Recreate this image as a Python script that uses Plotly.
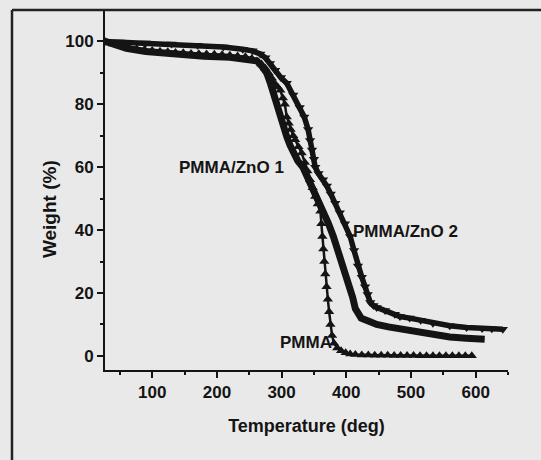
import plotly.graph_objects as go

# ---------------- data ----------------
pmma_T = [27, 40, 52, 64, 76, 88, 100, 112, 124, 136, 148, 160, 172, 184, 196, 208, 220, 232, 244, 254,
          262, 269, 275, 280, 285, 290, 294, 298, 302, 305, 308, 311, 314, 318, 321, 326, 331, 336, 340,
          344, 348, 352, 356, 360, 361.5, 363, 364.5, 366, 367.5, 369.5, 371.5, 373.5, 375.5, 378, 381,
          386, 392, 399, 406, 414, 424, 434, 444, 454, 464, 474, 484, 494, 504, 514, 524, 534, 544, 554,
          564, 574, 584, 594]
pmma_W = [100, 99.2, 98.6, 98.1, 97.7, 97.4, 97.1, 96.9, 96.7, 96.5, 96.4, 96.2, 96.1, 96.0, 95.9, 95.8,
          95.6, 95.4, 95.1, 94.6, 93.8, 92.8, 91.5, 90.0, 88.3, 86.5, 85.5, 84.5, 82.0, 80.0, 76.0, 74.0,
          72.0, 70.0, 68.7, 66.5, 64.5, 61.5, 58.8, 56.0, 53.5, 50.7, 48.3, 46.0, 42.0, 38.0, 34.0, 30.0,
          26.0, 22.0, 18.0, 14.0, 10.0, 6.5, 4.0, 2.5, 1.6, 1.0, 0.6, 0.4, 0.3, 0.3, 0.2, 0.2, 0.2, 0.1,
          0.1, 0.1, 0.1, 0.0, 0.0, 0.0, 0.0, 0.0, 0.0, 0.0, 0.0, 0.0]

zno1_T = [27, 40, 60, 90, 130, 180, 220, 250, 262, 270, 277, 283, 287, 293, 298, 303, 308, 313, 318,
          325, 333, 340, 349, 357, 364, 372, 380, 388, 395, 401, 406, 410, 414, 418, 423, 435, 447, 465,
          483, 500, 515, 534, 560, 586, 600, 614]
zno1_W = [100, 99.0, 97.8, 96.8, 96.0, 95.3, 95.0, 94.5, 93.8, 92.0, 90.0, 86.5, 83.5, 79.5, 76.0, 72.5,
          69.7, 67.0, 64.5, 62.0, 60.0, 57.0, 53.0, 49.8, 46.5, 42.3, 38.0, 33.0, 28.6, 25.0, 22.0, 18.5,
          15.0, 13.2, 12.0, 11.0, 10.0, 9.2, 8.5, 7.8, 7.2, 6.6, 6.0, 5.6, 5.4, 5.3]

zno2_T = [27, 50, 90, 130, 170, 210, 240, 255, 267, 275, 282, 290, 299, 308, 318, 328, 335, 341, 344,
          347, 350, 352, 357, 364, 370, 376, 383, 390, 398, 406, 412, 418, 424, 429, 433, 437, 442, 447,
          460, 475, 483, 498, 515, 534, 560, 586, 610, 625, 642]
zno2_W = [100, 99.8, 99.5, 99.2, 98.8, 98.2, 97.5, 97.0, 96.0, 94.8, 93.0, 90.8, 88.5, 86.7, 83.0, 79.0,
          76.0, 72.0, 68.5, 65.5, 62.5, 60.0, 58.0, 56.0, 54.0, 51.5, 48.5, 45.5, 42.0, 38.0, 33.5, 28.6,
          25.0, 22.0, 19.5, 17.0, 16.0, 15.4, 14.4, 13.2, 12.5, 12.0, 11.3, 10.4, 9.6, 9.0, 8.7, 8.6, 8.5]

x_ticks = [100, 200, 300, 400, 500, 600]
y_ticks = [0, 20, 40, 60, 80, 100]
x_title = "Temperature (deg)"
y_title = "Weight (%)"
labels = ["PMMA/ZnO 1", "PMMA/ZnO 2", "PMMA"]

# ---------------- styling ----------------
INK = "#141414"
BG = "#e9e9e9"
FONT = "Liberation Sans, Arial, sans-serif"

fig = go.Figure()
fig.add_trace(go.Scatter(x=zno1_T, y=zno1_W, mode="lines",
                         line=dict(color=INK, width=7), name=labels[0]))
fig.add_trace(go.Scatter(x=zno2_T, y=zno2_W, mode="lines+markers",
                         line=dict(color=INK, width=5.5),
                         marker=dict(symbol="triangle-down", size=9, color=INK), name=labels[1]))
fig.add_trace(go.Scatter(x=pmma_T, y=pmma_W, mode="lines+markers",
                         line=dict(color=INK, width=2.5),
                         marker=dict(symbol="triangle-up", size=9, color=INK), name=labels[2]))

axis_common = dict(showline=True, linecolor=INK, linewidth=2, ticks="outside", ticklen=6,
                   tickwidth=1.8, tickcolor=INK, showgrid=False, zeroline=False,
                   tickfont=dict(family=FONT, size=17, color=INK, weight="bold"))

fig.update_xaxes(range=[27, 650], tickvals=x_ticks, ticktext=[str(v) for v in x_ticks],
                 minor=dict(dtick=50, tick0=0, ticklen=3, tickwidth=1.5, tickcolor=INK, ticks="outside"),
                 title=dict(text=x_title, font=dict(family=FONT, size=18, color=INK, weight="bold"),
                            standoff=18),
                 **axis_common)
fig.update_yaxes(range=[-4.5, 110], tickvals=y_ticks, ticktext=[str(v) for v in y_ticks],
                 minor=dict(dtick=10, tick0=0, ticklen=3, tickwidth=1.5, tickcolor=INK, ticks="outside"),
                 **axis_common)

ann_font = dict(family=FONT, size=17, color=INK, weight="bold")
fig.add_annotation(x=222, y=59.8, text=labels[0], showarrow=False, font=ann_font,
                   xanchor="center", yanchor="middle")
fig.add_annotation(x=491, y=39.7, text=labels[1], showarrow=False, font=ann_font,
                   xanchor="center", yanchor="middle")
fig.add_annotation(x=337, y=4.3, text=labels[2], showarrow=False, font=ann_font,
                   xanchor="center", yanchor="middle")
fig.add_annotation(xref="paper", yref="paper", x=-0.139, y=0.447, text=y_title, textangle=-90,
                   xanchor="center", yanchor="middle", showarrow=False,
                   font=dict(family=FONT, size=19, color=INK, weight="bold"))

# scan frame around the figure
fig.add_shape(type="line", xref="paper", yref="paper", x0=-0.2308, x1=1.09, y0=1.0, y1=1.0,
              line=dict(color="#222222", width=2.5))
fig.add_shape(type="line", xref="paper", yref="paper", x0=-0.2308, x1=-0.2308, y0=1.0, y1=-0.26,
              line=dict(color="#222222", width=2.5))

fig.update_layout(width=541, height=460, margin=dict(l=105, r=33, t=10, b=90),
                  paper_bgcolor=BG, plot_bgcolor=BG, showlegend=False)

fig.write_html("out.html")
